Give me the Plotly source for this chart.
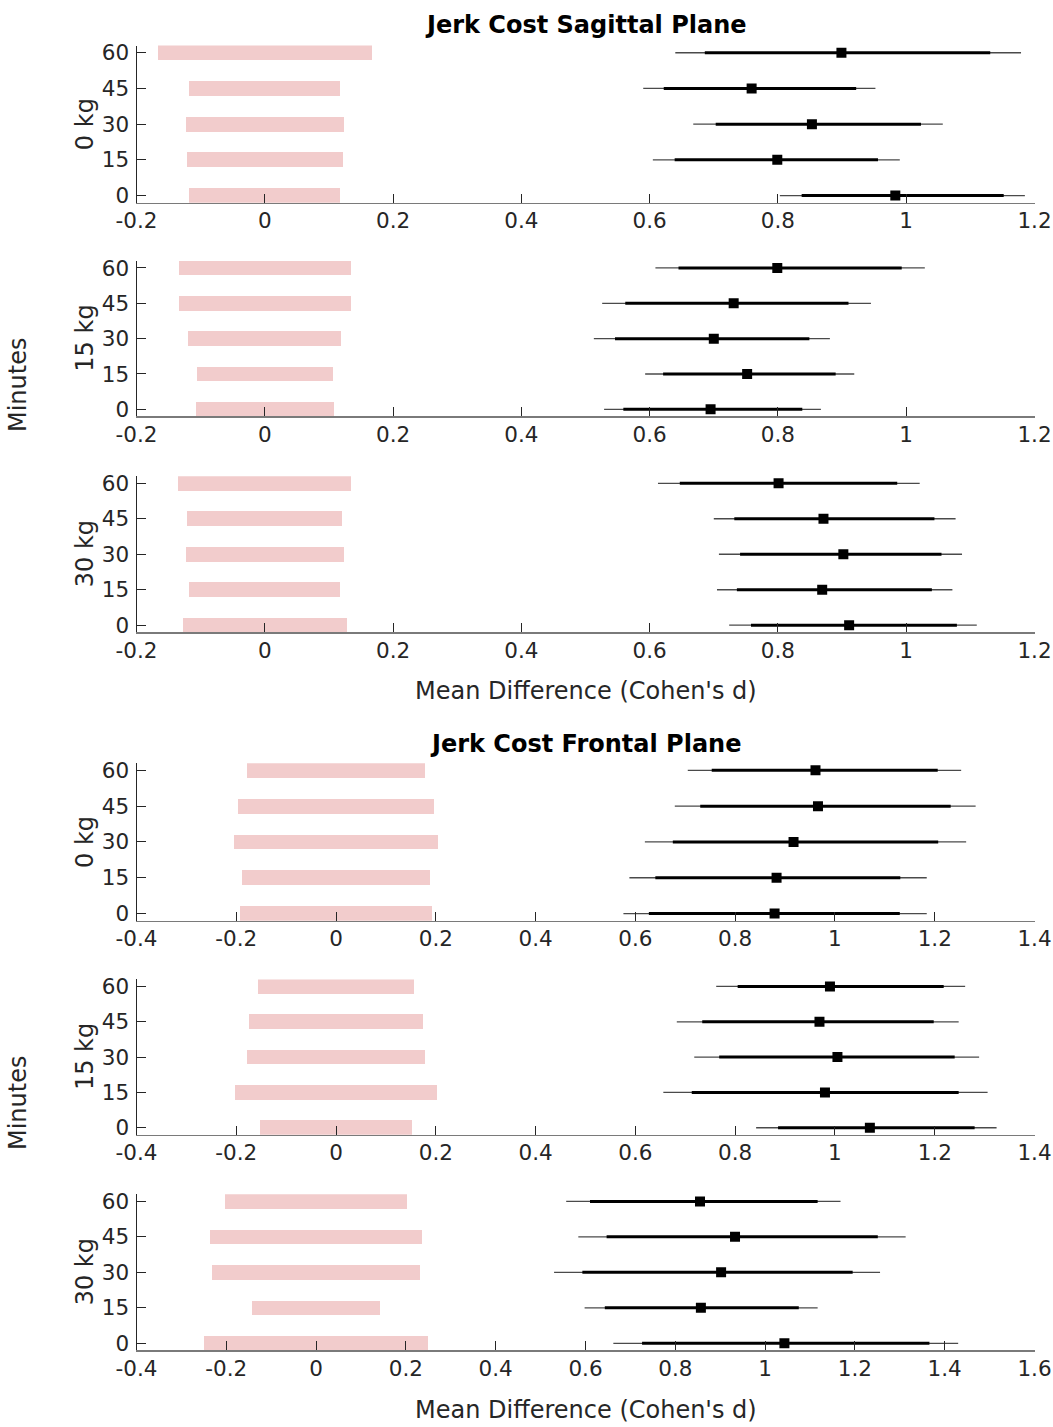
import plotly.graph_objects as go

# ---------------- data ----------------
minutes = [0, 15, 30, 45, 60]
minute_labels = ["0", "15", "30", "45", "60"]
loads = ["0 kg", "15 kg", "30 kg"]

sag_ticks = [-0.2, 0, 0.2, 0.4, 0.6, 0.8, 1.0, 1.2]
sag_tick_labels = ["-0.2", "0", "0.2", "0.4", "0.6", "0.8", "1", "1.2"]
fro_ticks_a = [-0.4, -0.2, 0, 0.2, 0.4, 0.6, 0.8, 1.0, 1.2, 1.4]
fro_tick_labels_a = ["-0.4", "-0.2", "0", "0.2", "0.4", "0.6", "0.8", "1", "1.2", "1.4"]
fro_ticks_b = [-0.4, -0.2, 0, 0.2, 0.4, 0.6, 0.8, 1.0, 1.2, 1.4, 1.6]
fro_tick_labels_b = ["-0.4", "-0.2", "0", "0.2", "0.4", "0.6", "0.8", "1", "1.2", "1.4", "1.6"]

# Sagittal plane, 0 kg  (order: 0, 15, 30, 45, 60 min)
sag0_eq_lo = [-0.118, -0.122, -0.123, -0.118, -0.167]
sag0_eq_hi = [0.118, 0.122, 0.123, 0.118, 0.167]
sag0_mean = [0.983, 0.799, 0.853, 0.759, 0.899]
sag0_ci90_lo = [0.837, 0.639, 0.703, 0.622, 0.686]
sag0_ci90_hi = [1.152, 0.956, 1.023, 0.922, 1.131]
sag0_ci95_lo = [0.803, 0.605, 0.668, 0.590, 0.640]
sag0_ci95_hi = [1.185, 0.990, 1.057, 0.952, 1.179]

# Sagittal plane, 15 kg
sag15_eq_lo = [-0.108, -0.106, -0.119, -0.134, -0.134]
sag15_eq_hi = [0.108, 0.106, 0.119, 0.134, 0.134]
sag15_mean = [0.695, 0.752, 0.700, 0.731, 0.799]
sag15_ci90_lo = [0.559, 0.621, 0.546, 0.562, 0.645]
sag15_ci90_hi = [0.838, 0.890, 0.849, 0.910, 0.993]
sag15_ci95_lo = [0.529, 0.593, 0.513, 0.526, 0.609]
sag15_ci95_hi = [0.867, 0.919, 0.881, 0.945, 1.029]

# Sagittal plane, 30 kg
sag30_eq_lo = [-0.128, -0.118, -0.123, -0.121, -0.135]
sag30_eq_hi = [0.128, 0.118, 0.123, 0.121, 0.135]
sag30_mean = [0.911, 0.869, 0.902, 0.871, 0.801]
sag30_ci90_lo = [0.758, 0.736, 0.741, 0.732, 0.647]
sag30_ci90_hi = [1.079, 1.040, 1.055, 1.044, 0.986]
sag30_ci95_lo = [0.724, 0.705, 0.708, 0.700, 0.613]
sag30_ci95_hi = [1.110, 1.072, 1.087, 1.077, 1.021]

# Frontal plane, 0 kg
fro0_eq_lo = [-0.193, -0.189, -0.205, -0.197, -0.178]
fro0_eq_hi = [0.193, 0.189, 0.205, 0.197, 0.178]
fro0_mean = [0.879, 0.883, 0.917, 0.966, 0.961]
fro0_ci90_lo = [0.627, 0.640, 0.675, 0.730, 0.753]
fro0_ci90_hi = [1.130, 1.131, 1.207, 1.232, 1.206]
fro0_ci95_lo = [0.576, 0.588, 0.619, 0.679, 0.705]
fro0_ci95_hi = [1.184, 1.184, 1.263, 1.282, 1.253]

# Frontal plane, 15 kg
fro15_eq_lo = [-0.152, -0.202, -0.178, -0.174, -0.157]
fro15_eq_hi = [0.152, 0.202, 0.178, 0.174, 0.157]
fro15_mean = [1.070, 0.980, 1.005, 0.969, 0.990]
fro15_ci90_lo = [0.886, 0.713, 0.768, 0.734, 0.805]
fro15_ci90_hi = [1.280, 1.248, 1.240, 1.198, 1.218]
fro15_ci95_lo = [0.842, 0.656, 0.718, 0.683, 0.762]
fro15_ci95_hi = [1.324, 1.306, 1.289, 1.248, 1.261]

# Frontal plane, 30 kg
fro30_eq_lo = [-0.250, -0.142, -0.231, -0.236, -0.202]
fro30_eq_hi = [0.250, 0.142, 0.231, 0.236, 0.202]
fro30_mean = [1.043, 0.857, 0.902, 0.933, 0.855]
fro30_ci90_lo = [0.726, 0.643, 0.593, 0.647, 0.610]
fro30_ci90_hi = [1.366, 1.075, 1.195, 1.251, 1.117]
fro30_ci95_lo = [0.662, 0.598, 0.530, 0.584, 0.557]
fro30_ci95_hi = [1.430, 1.117, 1.256, 1.313, 1.168]

# ---------------- figure ----------------
panels = [
    (sag0_eq_lo, sag0_eq_hi, sag0_mean, sag0_ci90_lo, sag0_ci90_hi, sag0_ci95_lo, sag0_ci95_hi, sag_ticks, sag_tick_labels, loads[0]),
    (sag15_eq_lo, sag15_eq_hi, sag15_mean, sag15_ci90_lo, sag15_ci90_hi, sag15_ci95_lo, sag15_ci95_hi, sag_ticks, sag_tick_labels, loads[1]),
    (sag30_eq_lo, sag30_eq_hi, sag30_mean, sag30_ci90_lo, sag30_ci90_hi, sag30_ci95_lo, sag30_ci95_hi, sag_ticks, sag_tick_labels, loads[2]),
    (fro0_eq_lo, fro0_eq_hi, fro0_mean, fro0_ci90_lo, fro0_ci90_hi, fro0_ci95_lo, fro0_ci95_hi, fro_ticks_a, fro_tick_labels_a, loads[0]),
    (fro15_eq_lo, fro15_eq_hi, fro15_mean, fro15_ci90_lo, fro15_ci90_hi, fro15_ci95_lo, fro15_ci95_hi, fro_ticks_a, fro_tick_labels_a, loads[1]),
    (fro30_eq_lo, fro30_eq_hi, fro30_mean, fro30_ci90_lo, fro30_ci90_hi, fro30_ci95_lo, fro30_ci95_hi, fro_ticks_b, fro_tick_labels_b, loads[2]),
]

# the page body margin is removed below (post_script), so the figure fills the window
OFF = 0
W, H = 1053 - OFF, 1427 - OFF


def px_x(px):
    return (px - OFF) / W


def px_y(py):
    return 1 - (py - OFF) / H


# screen-pixel extents of each plot area (top, bottom)
panel_px = [(45.6, 202.7), (260.9, 416.4), (476.2, 632.3),
            (763.2, 920.7), (979.4, 1134.8), (1194.3, 1350.4)]
x_left_px, x_right_px = 136.5, 1034.5

AX_COLOR = "#262626"
FONT = "DejaVu Sans, Liberation Sans, Arial, sans-serif"
PINK = "rgb(242,204,204)"
TICK_SIZE = 21.5
LABEL_SIZE = 24

fig = go.Figure()
layout = dict(
    width=W, height=H, autosize=False,
    margin=dict(l=0, r=0, t=0, b=0, pad=0, autoexpand=False),
    paper_bgcolor="white", plot_bgcolor="white",
    showlegend=False,
    font=dict(family=FONT, color=AX_COLOR, size=TICK_SIZE),
    bargap=0,
)

annotations = []

for i, (eq_lo, eq_hi, mean, c90lo, c90hi, c95lo, c95hi, ticks, tick_labels, load) in enumerate(panels):
    n = "" if i == 0 else str(i + 1)
    xa, ya = "x" + n, "y" + n
    # equivalence bounds (pink bars)
    fig.add_trace(go.Bar(
        y=minutes, x=[h - l for l, h in zip(eq_lo, eq_hi)], base=eq_lo,
        orientation="h", width=6.2, marker=dict(color=PINK, line=dict(width=0)),
        xaxis=xa, yaxis=ya, hoverinfo="skip"))
    # outer CI (thin)
    xs, ys = [], []
    for lo, hi, m in zip(c95lo, c95hi, minutes):
        xs += [lo, hi, None]
        ys += [m, m, None]
    fig.add_trace(go.Scatter(x=xs, y=ys, mode="lines",
                             line=dict(color="#4a4a4a", width=1.3),
                             xaxis=xa, yaxis=ya, hoverinfo="skip"))
    # inner CI (thick)
    xs, ys = [], []
    for lo, hi, m in zip(c90lo, c90hi, minutes):
        xs += [lo, hi, None]
        ys += [m, m, None]
    fig.add_trace(go.Scatter(x=xs, y=ys, mode="lines",
                             line=dict(color="black", width=3),
                             xaxis=xa, yaxis=ya, hoverinfo="skip"))
    # means
    fig.add_trace(go.Scatter(x=mean, y=minutes, mode="markers",
                             marker=dict(symbol="square", size=10, color="black",
                                         line=dict(width=0)),
                             xaxis=xa, yaxis=ya))

    top, bot = panel_px[i]
    layout["xaxis" + n] = dict(
        domain=[px_x(x_left_px), px_x(x_right_px)], anchor=ya, automargin=False,
        range=[ticks[0], ticks[-1]], tickvals=ticks, ticktext=tick_labels,
        showgrid=False, zeroline=False, showline=True, linecolor="#7a7a7a", linewidth=1.5,
        ticks="inside", ticklen=9, tickwidth=1, tickcolor=AX_COLOR,
        tickfont=dict(size=TICK_SIZE, color=AX_COLOR, family=FONT),
        ticklabelstandoff=-2, fixedrange=True,
    )
    layout["yaxis" + n] = dict(
        domain=[px_y(bot), px_y(top)], anchor=xa, automargin=False,
        range=[-3, 63], tickvals=minutes, ticktext=minute_labels,
        showgrid=False, zeroline=False, showline=True, linecolor=AX_COLOR, linewidth=1,
        ticks="inside", ticklen=9, tickwidth=1, tickcolor=AX_COLOR,
        tickfont=dict(size=TICK_SIZE, color=AX_COLOR, family=FONT),
        ticklabelstandoff=2, fixedrange=True,
    )
    annotations.append(dict(
        text=load, x=px_x(85), y=px_y((top + bot) / 2), xref="paper", yref="paper",
        xanchor="center", yanchor="middle", textangle=-90, showarrow=False,
        font=dict(size=LABEL_SIZE, color=AX_COLOR, family=FONT)))

cx = px_x((x_left_px + x_right_px) / 2)
for text, ypx in [("Jerk Cost Sagittal Plane", 25), ("Jerk Cost Frontal Plane", 743.5)]:
    annotations.append(dict(text="<b>" + text + "</b>", x=cx, y=px_y(ypx),
                            xref="paper", yref="paper", xanchor="center", yanchor="middle",
                            showarrow=False, font=dict(size=LABEL_SIZE, color="black", family=FONT)))
for ypx in [691, 1410]:
    annotations.append(dict(text="Mean Difference (Cohen's d)", x=cx, y=px_y(ypx),
                            xref="paper", yref="paper", xanchor="center", yanchor="middle",
                            showarrow=False, font=dict(size=LABEL_SIZE, color=AX_COLOR, family=FONT)))
for ypx in [385, 1103]:
    annotations.append(dict(text="Minutes", x=px_x(18), y=px_y(ypx),
                            xref="paper", yref="paper", xanchor="center", yanchor="middle",
                            textangle=-90, showarrow=False,
                            font=dict(size=LABEL_SIZE, color=AX_COLOR, family=FONT)))

layout["annotations"] = annotations
fig.update_layout(**layout)
fig.write_html(
    "out.html",
    config={"responsive": False, "displayModeBar": False, "staticPlot": True},
    post_script="document.body.style.margin='0';document.body.style.overflow='hidden';",
)
